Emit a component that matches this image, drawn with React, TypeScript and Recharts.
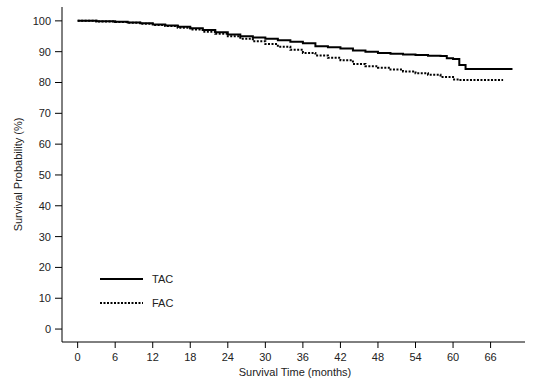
import React from 'react';
import { LineChart, Line, XAxis, YAxis } from 'recharts';

// survival step curves (months, %)
const tacMonths = [0, 3, 6, 8, 10, 12, 14, 16, 18, 20, 22, 24, 26, 28, 30, 32, 34, 36, 38, 40, 42, 44, 46, 48, 50, 52, 54, 56, 58, 59, 60, 61, 62, 69.5];
const tacSurvival = [100, 99.9, 99.7, 99.5, 99.2, 98.8, 98.5, 98.1, 97.6, 97.0, 96.3, 95.6, 95.0, 94.6, 94.2, 93.7, 93.2, 92.7, 91.8, 91.4, 91.0, 90.4, 90.0, 89.6, 89.3, 89.1, 88.9, 88.7, 88.6, 87.9, 87.6, 85.7, 84.4, 84.4];

const facMonths = [0, 3, 6, 8, 10, 12, 14, 16, 18, 20, 22, 24, 26, 28, 30, 32, 34, 36, 38, 40, 42, 44, 46, 48, 50, 52, 54, 56, 58, 60, 61, 68];
const facSurvival = [100, 99.8, 99.6, 99.4, 99.1, 98.7, 98.3, 97.8, 97.2, 96.5, 95.8, 95.0, 94.2, 93.4, 92.5, 91.6, 90.6, 89.6, 88.8, 88.0, 87.2, 86.0, 85.3, 84.8, 84.2, 83.6, 83.0, 82.5, 81.8, 81.0, 80.8, 80.8];

const xTicks = [0, 6, 12, 18, 24, 30, 36, 42, 48, 54, 60, 66];
const yTicks = [0, 10, 20, 30, 40, 50, 60, 70, 80, 90, 100];
const seriesNames = ['TAC', 'FAC'];

const tacData = tacMonths.map((t, i) => ({ t, s: tacSurvival[i] }));
const facData = facMonths.map((t, i) => ({ t, s: facSurvival[i] }));

const FONT = 'Arial, "Liberation Sans", sans-serif';
const tickStyle = { fontSize: 11, fill: '#222', fontFamily: FONT };

function LegendBox() {
  return (
    <svg
      width={100}
      height={44}
      style={{ position: 'absolute', left: 100, top: 268, overflow: 'visible' }}
    >
      <line x1={0} x2={43} y1={11} y2={11} stroke="#000" strokeWidth={2} />
      <text x={52} y={15} style={tickStyle} fontSize={12}>{seriesNames[0]}</text>
      <line x1={0} x2={43} y1={35} y2={35} stroke="#000" strokeWidth={2} strokeDasharray="2 1.5" />
      <text x={52} y={39} style={tickStyle} fontSize={12}>{seriesNames[1]}</text>
    </svg>
  );
}

export default function App() {
  return (
    <div style={{ position: 'absolute', left: 0, top: 0, width: 534, height: 385, background: '#fff' }}>
      <LineChart width={534} height={385} margin={{ top: 7, right: 9, bottom: 0, left: 0 }}>
        <XAxis
          type="number"
          dataKey="t"
          domain={[-2.5, 71.5]}
          ticks={xTicks}
          allowDataOverflow
          tickSize={6}
          tickMargin={5}
          height={43}
          stroke="#000"
          tick={tickStyle}
          label={({ viewBox }: any) => (
            <text
              x={viewBox.x + 233}
              y={viewBox.y + 34}
              textAnchor="middle"
              style={tickStyle}
            >
              Survival Time (months)
            </text>
          )}
        />
        <YAxis
          type="number"
          dataKey="s"
          domain={[-4.2, 104.5]}
          ticks={yTicks}
          allowDataOverflow
          width={62}
          tickSize={7}
          tickMargin={4}
          stroke="#000"
          tick={tickStyle}
          label={({ viewBox }: any) => (
            <text
              x={22}
              y={viewBox.y + viewBox.height / 2}
              textAnchor="middle"
              transform={`rotate(-90, 22, ${viewBox.y + viewBox.height / 2})`}
              style={tickStyle}
            >
              Survival Probability (%)
            </text>
          )}
        />
        <Line
          data={tacData}
          dataKey="s"
          name={seriesNames[0]}
          type="stepAfter"
          stroke="#000"
          strokeWidth={2}
          dot={false}
          isAnimationActive={false}
        />
        <Line
          data={facData}
          dataKey="s"
          name={seriesNames[1]}
          type="stepAfter"
          stroke="#000"
          strokeWidth={2}
          strokeDasharray="2 1.5"
          dot={false}
          isAnimationActive={false}
        />
      </LineChart>
      <LegendBox />
    </div>
  );
}
